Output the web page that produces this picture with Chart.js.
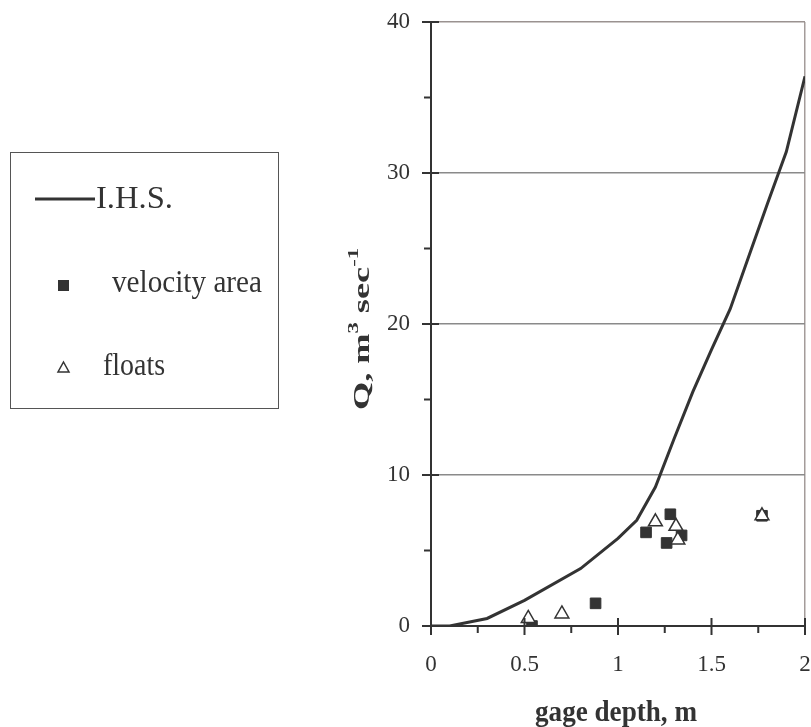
<!DOCTYPE html>
<html>
<head>
<meta charset="utf-8">
<script src="https://cdn.jsdelivr.net/npm/chart.js@4"></script>
<style>
  html, body { margin: 0; padding: 0; background: #fff; overflow: hidden; }
  #wrap { position: relative; width: 830px; height: 727px; }
</style>
</head>
<body>
<div id="wrap"><canvas id="ratingChart"></canvas></div>
<script>
// rating curve (I.H.S.)
const ihsDepth = [0, 0.1, 0.3, 0.5, 0.8, 1.0, 1.1, 1.2, 1.3, 1.4, 1.5, 1.6, 1.7, 1.8, 1.9, 2.0];
const ihsQ     = [0, 0, 0.5, 1.7, 3.8, 5.8, 7.0, 9.2, 12.4, 15.5, 18.3, 21.0, 24.5, 28.0, 31.4, 36.4];

// measured: velocity area
const vaDepth = [0.54, 0.88, 1.15, 1.28, 1.26, 1.34, 1.77];
const vaQ     = [0.0, 1.5, 6.2, 7.4, 5.5, 6.0, 7.3];

// measured: floats
const flDepth = [0.52, 0.70, 1.20, 1.31, 1.32, 1.77];
const flQ     = [0.5, 0.8, 6.9, 6.6, 5.7, 7.3];

const xTicks = [0, 0.5, 1, 1.5, 2];
const yTicks = [0, 10, 20, 30, 40];

const legendLabels = ['I.H.S.', 'velocity area', 'floats'];
const xTitle = 'gage depth, m';

const ink = '#333333';
const serif = '"Liberation Serif", "Times New Roman", serif';

function pts(xs, ys) {
    return xs.map((x, i) => ({ x: x, y: ys[i] }));
}

// text squeezed/stretched to a target width, a bit taller than normal like the scan
function fitText(ctx, txt, x, y, font, width, sy, align) {
    ctx.save();
    ctx.font = font;
    const w = ctx.measureText(txt).width;
    ctx.translate(x, y);
    ctx.scale(width / w, sy);
    ctx.textAlign = align || 'left';
    ctx.textBaseline = 'alphabetic';
    ctx.fillText(txt, 0, 0);
    ctx.restore();
}

// axis ticks (crossing majors + outside minors), titles and the boxed legend
const decorations = {
    id: 'decorations',
    afterDraw(chart) {
        const ctx = chart.ctx;
        const xs = chart.scales.x, ys = chart.scales.y;
        const x0 = xs.getPixelForValue(0);
        const y0 = ys.getPixelForValue(0);
        ctx.save();
        ctx.strokeStyle = ink;
        ctx.lineWidth = 2;
        ctx.beginPath();
        for (let v = 0; v <= 2.001; v += 0.25) {
            const px = xs.getPixelForValue(v);
            const major = Math.abs(v * 2 - Math.round(v * 2)) < 1e-6;
            ctx.moveTo(px, major ? y0 - 8 : y0);
            ctx.lineTo(px, major ? y0 + 9 : y0 + 7);
        }
        for (let v = 0; v <= 40.001; v += 5) {
            const py = ys.getPixelForValue(v);
            const major = v % 10 === 0;
            ctx.moveTo(major ? x0 - 9 : x0 - 7, py);
            ctx.lineTo(major ? x0 + 8 : x0, py);
        }
        ctx.stroke();

        ctx.fillStyle = ink;
        fitText(ctx, xTitle, 616, 721, 'bold 25px ' + serif, 162, 1.15, 'center');

        // y title with superscripts
        const parts = [
            { t: 'Q, m', f: 'bold 24px ' + serif, dy: 0 },
            { t: '3', f: 'bold 15px ' + serif, dy: -11 },
            { t: ' sec', f: 'bold 24px ' + serif, dy: 0 },
            { t: '-1', f: 'bold 15px ' + serif, dy: -11 }
        ];
        let total = 0;
        parts.forEach(p => { ctx.font = p.f; p.w = ctx.measureText(p.t).width; total += p.w; });
        ctx.save();
        ctx.translate(369, 410);
        ctx.rotate(-Math.PI / 2);
        ctx.scale(162 / total, 1);
        ctx.textBaseline = 'alphabetic';
        ctx.textAlign = 'left';
        let cx = 0;
        parts.forEach(p => { ctx.font = p.f; ctx.fillText(p.t, cx, p.dy); cx += p.w; });
        ctx.restore();

        // legend box
        ctx.strokeStyle = '#555';
        ctx.lineWidth = 1;
        ctx.strokeRect(10.5, 152.5, 268, 256);

        ctx.strokeStyle = ink;
        ctx.lineWidth = 3;
        ctx.beginPath();
        ctx.moveTo(35, 199);
        ctx.lineTo(95, 199);
        ctx.stroke();

        ctx.fillStyle = ink;
        ctx.fillRect(58, 280, 11, 11);

        ctx.lineWidth = 1.5;
        ctx.beginPath();
        ctx.moveTo(63.5, 362);
        ctx.lineTo(69, 372);
        ctx.lineTo(58, 372);
        ctx.closePath();
        ctx.stroke();

        const lf = '28px ' + serif;
        fitText(ctx, legendLabels[0], 96, 208, lf, 77, 1.15);
        fitText(ctx, legendLabels[1], 112, 292, lf, 150, 1.15);
        fitText(ctx, legendLabels[2], 103, 375, lf, 62, 1.15);
        ctx.restore();
    }
};

const ctx = document.getElementById('ratingChart').getContext('2d');
new Chart(ctx, {
    type: 'scatter',
    data: {
        datasets: [
            {
                label: legendLabels[2],
                data: pts(flDepth, flQ),
                pointStyle: 'triangle',
                pointRadius: 8,
                backgroundColor: '#ffffff',
                borderColor: ink,
                borderWidth: 1.5,
                order: 0
            },
            {
                label: legendLabels[1],
                data: pts(vaDepth, vaQ),
                pointStyle: 'rect',
                pointRadius: 7.5,
                backgroundColor: ink,
                borderColor: ink,
                borderWidth: 1,
                order: 1
            },
            {
                label: legendLabels[0],
                data: pts(ihsDepth, ihsQ),
                showLine: true,
                pointRadius: 0,
                borderColor: ink,
                borderWidth: 3,
                tension: 0,
                order: 2
            }
        ]
    },
    options: {
        responsive: true,
        maintainAspectRatio: false,
        animation: false,
        layout: { padding: { left: 0, right: 25, top: 22, bottom: 0 } },
        plugins: {
            legend: { display: false },
            tooltip: { enabled: false }
        },
        scales: {
            x: {
                type: 'linear',
                min: 0,
                max: 2,
                afterFit: s => {
                    s.height = 101;
                    s.paddingLeft = 0;
                    s.paddingRight = 0;
                },
                afterBuildTicks: s => { s.ticks = xTicks.map(v => ({ value: v })); },
                ticks: {
                    padding: 25,
                    color: ink,
                    font: { family: serif, size: 23 },
                    maxRotation: 0,
                    callback: v => String(v)
                },
                grid: {
                    drawTicks: false,
                    color: c => (c.tick && c.tick.value === 2) ? '#a49c9a' : 'rgba(0,0,0,0)',
                    lineWidth: 1.5
                },
                border: { color: ink, width: 2 }
            },
            y: {
                type: 'linear',
                min: 0,
                max: 40,
                afterFit: s => {
                    s.width = 431;
                    s.paddingTop = 0;
                    s.paddingBottom = 0;
                },
                afterBuildTicks: s => { s.ticks = yTicks.map(v => ({ value: v })); },
                ticks: {
                    padding: 21,
                    color: ink,
                    font: { family: serif, size: 23 }
                },
                grid: {
                    drawTicks: false,
                    color: c => (c.tick && c.tick.value === 40) ? '#9a9290' : '#8a8a8a',
                    lineWidth: 1.5
                },
                border: { color: ink, width: 2 }
            }
        }
    },
    plugins: [decorations]
});
</script>
</body>
</html>
